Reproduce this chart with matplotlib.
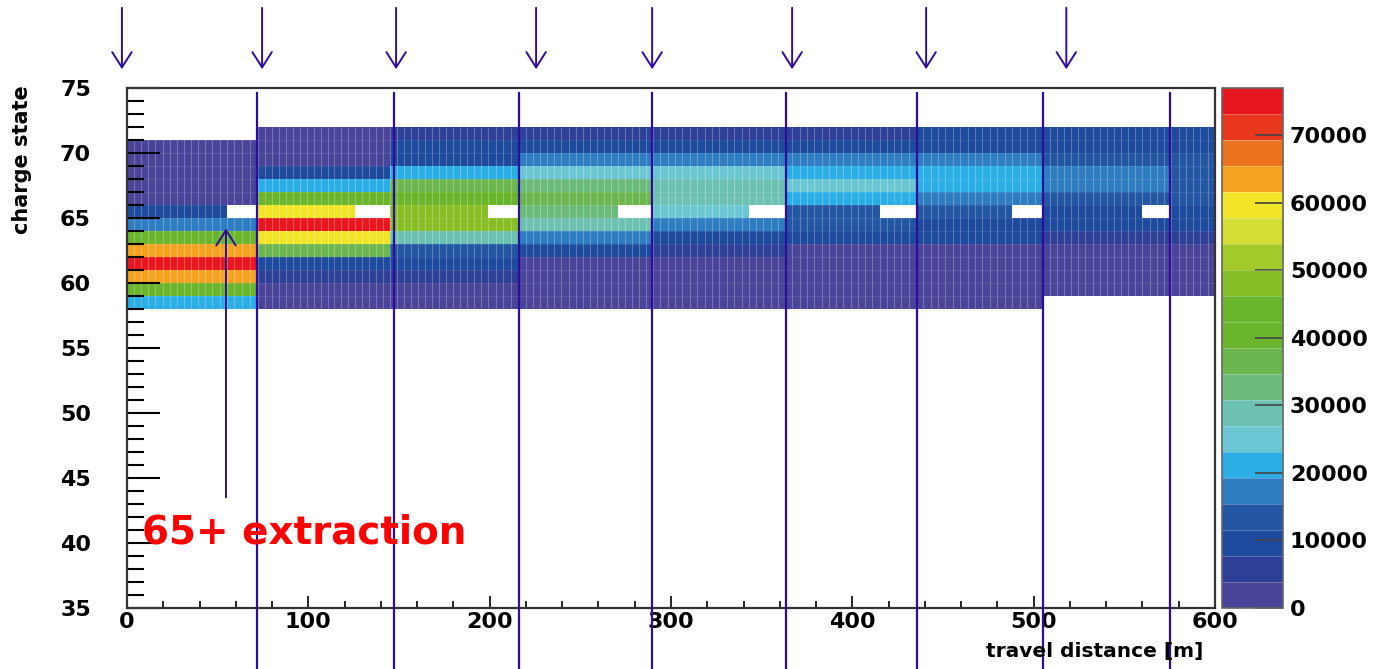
import numpy as np
import matplotlib
matplotlib.use('Agg')
import matplotlib.pyplot as plt
from matplotlib.colors import ListedColormap, BoundaryNorm
from matplotlib.ticker import MultipleLocator
from matplotlib.transforms import blended_transform_factory

# ---- values ----
seg_edges = [0, 72, 145, 216, 290, 363, 435, 505, 576, 600]      # travel distance [m]
gap_start = [55, 126, 199, 271, 343, 415, 488, 560, None]         # charge 65 empty from here to segment end
gap_charge = 65

# counts per segment, listed for charge 71 down to 58
seg_counts = [
    [np.nan, 1500, 1500, 1500, 1500, 1500, 9600, 17300, 40400, 63500, 75000, 63500, 40400, 21200],
    [1500, 1500, 1500, 9600, 21200, 40400, 59700, 75000, 59700, 36600, 9600, 5800, 1500, 1500],
    [5000, 9000, 11500, 21200, 36600, 42000, 48100, 48100, 28900, 12000, 9000, 4000, 1500, 1500],
    [7000, 9600, 17300, 25000, 32700, 38000, 32700, 28900, 17300, 8000, 2500, 1500, 1500, 1500],
    [7000, 9600, 17300, 25000, 28900, 29500, 25000, 17300, 9600, 6000, 2000, 1500, 1500, 1500],
    [7000, 9600, 17300, 21200, 25000, 21500, 15000, 12000, 9000, 1500, 1500, 1500, 1500, 1500],
    [8000, 9600, 16000, 21200, 21200, 18500, 12000, 9600, 8000, 1500, 1500, 1500, 1500, 1500],
    [9600, 9600, 13500, 17300, 17300, 14000, 11000, 9600, 5800, 1500, 1500, 1500, 1500, np.nan],
    [9600, 9600, 15000, 15000, 13500, 13500, 9600, 8000, 5000, 1500, 1500, 1500, 1500, np.nan],
]

line_pos = [71.7, 147.3, 216.2, 289.6, 363.5, 435.7, 505.2, 575.3]     # vertical markers [m]
arrow_pos = [-2.8, 74.5, 148.4, 225.6, 289.6, 366.8, 440.7, 518.0]    # down arrows above the frame [m]

z_max = 77000
cb_ticks = list(range(0, 70001, 10000))
palette = ['#4A4499', '#2E3F97', '#1D4A9D', '#2356A2', '#2E7CC1', '#2AAEE5',
           '#6CC7D4', '#6DC1B3', '#6CBB7B', '#6CB64F', '#6AB52C', '#6AB52C',
           '#88BE25', '#A3C92B', '#D5DE35', '#F2E426', '#F4A21F', '#EB731E',
           '#E8371C', '#E8161E']

plt.rcParams['font.family'] = 'DejaVu Sans'
plt.rcParams['font.weight'] = 'bold'
arrow_col = '#2E0C9E'

# ---- build the 2d histogram ----
xe = [0.0]
for i in range(len(seg_edges) - 1):
    a, b = seg_edges[i], seg_edges[i + 1]
    cuts = [a, b] if gap_start[i] is None else [a, gap_start[i], b]
    for c0, c1 in zip(cuts[:-1], cuts[1:]):
        n = max(1, int(round((c1 - c0) / 4.0)))
        xe.extend(np.linspace(c0, c1, n + 1)[1:])
xe = np.array(xe)
ye = np.arange(58, 73)
xc = 0.5 * (xe[:-1] + xe[1:])

Z = np.full((len(ye) - 1, len(xc)), np.nan)
for j, x in enumerate(xc):
    s = np.searchsorted(seg_edges, x) - 1
    Z[:, j] = np.array(seg_counts[s])[::-1]
    if gap_start[s] is not None and x > gap_start[s]:
        Z[gap_charge - 58, j] = np.nan
Z = np.ma.masked_invalid(Z)

cmap = ListedColormap(palette)
cmap.set_bad('white')
norm = BoundaryNorm(np.linspace(0, z_max, len(palette) + 1), len(palette))

fig = plt.figure(figsize=(13.78, 6.69), dpi=100)
ax = fig.add_axes([127 / 1378, 1 - 608 / 669, (1215 - 127) / 1378, (608 - 88) / 669])
cax = fig.add_axes([1222 / 1378, 1 - 608 / 669, (1283 - 1222) / 1378, (608 - 88) / 669])

pc = ax.pcolormesh(xe, ye, Z, cmap=cmap, norm=norm, edgecolors='none', antialiased=False)
# faint bin stripes of the rendered histogram
ax.vlines(xe[1:-1], 58, 72, colors='white', alpha=0.25, lw=0.8, zorder=1.5)
ax.hlines(ye[1:-1], 0, 600, colors='white', alpha=0.1, lw=0.6, zorder=1.5)

# axes style (ROOT like)
for sp in ax.spines.values():
    sp.set_color('#333333')
    sp.set_linewidth(1.6)
ax.xaxis.set_major_locator(MultipleLocator(100))
ax.xaxis.set_minor_locator(MultipleLocator(20))
ax.yaxis.set_major_locator(MultipleLocator(5))
ax.yaxis.set_minor_locator(MultipleLocator(1))
ax.tick_params(axis='y', which='major', direction='in', length=24, width=1.5,
               labelsize=16, pad=26, right=False)
ax.tick_params(axis='y', which='minor', direction='in', length=12, width=1.5, right=False)
ax.tick_params(axis='x', which='major', direction='in', length=9, width=1.2,
               labelsize=16, pad=3, top=False)
ax.tick_params(axis='x', which='minor', direction='in', length=5, width=1.2, top=False)

fig.text(1203 / 1378, 1 - 652 / 669, 'travel distance [m]', ha='right', va='center',
         fontsize=14.5, fontweight='bold')
fig.text(22 / 1378, 1 - 85 / 669, 'charge state', rotation=90, ha='center', va='top',
         fontsize=15, fontweight='bold')

# colour bar
cb = fig.colorbar(pc, cax=cax, ticks=cb_ticks, drawedges=True)
cb.minorticks_off()
cb.outline.set_edgecolor('#666666')
cb.outline.set_linewidth(1.2)
cb.dividers.set_color((1, 1, 1, 0.3))
cb.dividers.set_linewidth(0.6)
cax.tick_params(direction='in', length=20, width=1.2, color='#444444', labelsize=16, pad=5)
cax.set_yticklabels([str(t) for t in cb_ticks])

# vertical markers and arrows
trans = blended_transform_factory(ax.transData, fig.transFigure)
for x in line_pos:
    ax.plot([x, x], [0, 1 - 93 / 669], transform=trans, color=arrow_col, lw=1.6,
            clip_on=False, scalex=False, scaley=False, zorder=5)
for x in arrow_pos:
    ax.annotate('', xy=(x, 1 - 72 / 669), xycoords=trans,
                xytext=(x, 1 - 5 / 669), textcoords=trans, annotation_clip=False,
                arrowprops=dict(arrowstyle='->,head_length=0.55,head_width=0.35',
                                color=arrow_col, lw=1.4, mutation_scale=20))

ax.annotate('', xy=(54.6, 64.2), xytext=(54.6, 43.5),
            arrowprops=dict(arrowstyle='->,head_length=0.55,head_width=0.35',
                            color=arrow_col, lw=1.4, mutation_scale=20, shrinkA=0, shrinkB=0))
ax.text(8.3, 40.0, '65+ extraction', color='#FF0000', fontsize=28, fontweight='bold',
        ha='left', va='baseline', zorder=6)

ax.set_xlim(0, 600)
ax.set_ylim(35, 75)

fig.savefig('out.png', dpi=100)
